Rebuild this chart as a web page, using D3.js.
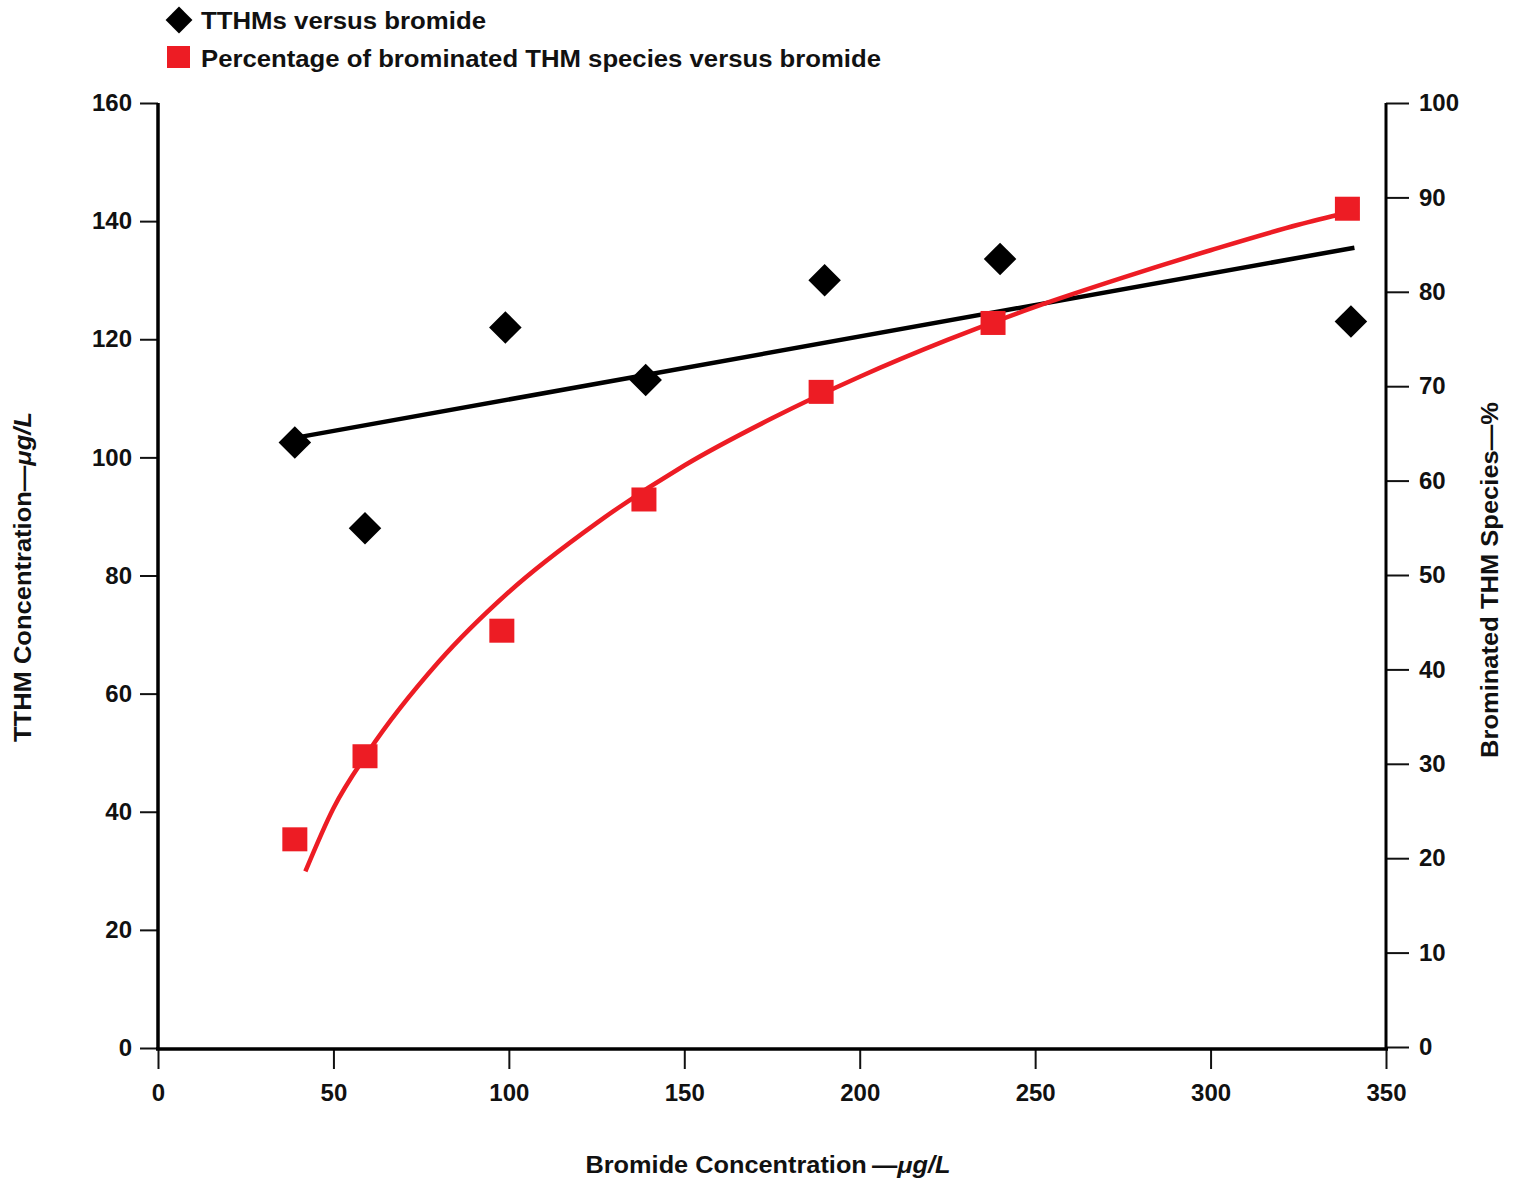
<!DOCTYPE html>
<html>
<head>
<meta charset="utf-8">
<script src="https://cdn.jsdelivr.net/npm/d3@7"></script>
<style>
  body { margin: 0; background: #fff; }
  svg text { font-family: "Liberation Sans", Arial, sans-serif; font-weight: bold; fill: #111; }
</style>
</head>
<body>
<div id="chart"></div>
<script>
// bromide (ug/L) vs TTHM (ug/L)
const tthmX = [39, 59, 99, 139, 190, 240, 340];
const tthmY = [102.5, 88, 122, 113.1, 130, 133.6, 123];
// bromide vs % brominated THM species
const pctX = [39, 59, 98, 138.5, 189, 238, 339];
const pctY = [22, 30.8, 44.1, 58, 69.4, 76.7, 88.8];
// fitted lines
const tthmTrendX = [39, 341];
const tthmTrendY = [103.3, 135.5];
const pctCurveX = [42, 50, 60, 80, 100, 125, 150, 175, 200, 225, 250, 275, 300, 325, 339];
const pctCurveY = [18.6, 25.3, 31.3, 40.8, 48.2, 55.5, 61.6, 66.6, 71.0, 74.9, 78.4, 81.5, 84.4, 87.1, 88.4];

const xTicks = [0, 50, 100, 150, 200, 250, 300, 350];
const leftTicks = [0, 20, 40, 60, 80, 100, 120, 140, 160];
const rightTicks = [0, 10, 20, 30, 40, 50, 60, 70, 80, 90, 100];

const red = '#ed1c24';
const W = 1518, H = 1182;

const svg = d3.select('#chart').append('svg').attr('width', W).attr('height', H);

const x = d3.scaleLinear().domain([0, 350]).range([158, 1386]);
const yL = d3.scaleLinear().domain([0, 160]).range([1048, 103]);
const yR = d3.scaleLinear().domain([0, 100]).range([1047, 103]);

// axes
const gx = svg.append('g').attr('transform', 'translate(0,1049)')
    .call(d3.axisBottom(x).tickValues(xTicks).tickSize(20).tickPadding(15));
const gl = svg.append('g').attr('transform', 'translate(158,0)')
    .call(d3.axisLeft(yL).tickValues(leftTicks).tickSize(18).tickPadding(8));
const gr = svg.append('g').attr('transform', 'translate(1386,0)')
    .call(d3.axisRight(yR).tickValues(rightTicks).tickSize(23).tickPadding(10));

[gx, gl, gr].forEach(g => {
    g.select('.domain').remove();
    g.selectAll('.tick line').attr('stroke', '#111').attr('stroke-width', 2);
    g.selectAll('.tick text').style('font-size', '24px');
});

svg.append('line').attr('x1', 158).attr('x2', 158).attr('y1', 103).attr('y2', 1050)
    .attr('stroke', '#000').attr('stroke-width', 3.5);
svg.append('line').attr('x1', 156).attr('x2', 1388).attr('y1', 1049).attr('y2', 1049)
    .attr('stroke', '#000').attr('stroke-width', 3.5);
svg.append('line').attr('x1', 1386).attr('x2', 1386).attr('y1', 103).attr('y2', 1050)
    .attr('stroke', '#000').attr('stroke-width', 3);

// fitted lines
const trend = tthmTrendX.map((v, i) => ({x: v, y: tthmTrendY[i]}));
svg.append('path')
    .attr('fill', 'none').attr('stroke', '#000').attr('stroke-width', 4.5)
    .attr('d', d3.line().x(d => x(d.x)).y(d => yL(d.y))(trend));

const curve = pctCurveX.map((v, i) => ({x: v, y: pctCurveY[i]}));
svg.append('path')
    .attr('fill', 'none').attr('stroke', red).attr('stroke-width', 4.5)
    .attr('d', d3.line().x(d => x(d.x)).y(d => yR(d.y)).curve(d3.curveMonotoneX)(curve));

// markers
const diamond = d3.symbol().type(d3.symbolSquare).size(23 * 23);
svg.selectAll('path.dia')
    .data(tthmX.map((v, i) => ({x: v, y: tthmY[i]})))
    .enter().append('path')
    .attr('class', 'dia')
    .attr('d', diamond)
    .attr('fill', '#000')
    .attr('transform', d => 'translate(' + x(d.x) + ',' + yL(d.y) + ') rotate(45)');

svg.selectAll('rect.sq')
    .data(pctX.map((v, i) => ({x: v, y: pctY[i]})))
    .enter().append('rect')
    .attr('class', 'sq')
    .attr('x', d => x(d.x) - 12.5).attr('y', d => yR(d.y) - 12)
    .attr('width', 25).attr('height', 24)
    .attr('fill', red);

// legend
svg.append('path').attr('d', d3.symbol().type(d3.symbolSquare).size(19 * 19))
    .attr('fill', '#000').attr('transform', 'translate(179,20) rotate(45)');
svg.append('text').attr('x', 201).attr('y', 29).style('font-size', '23px')
    .attr('textLength', 285).attr('lengthAdjust', 'spacingAndGlyphs')
    .text('TTHMs versus bromide');
svg.append('rect').attr('x', 167).attr('y', 46).attr('width', 23).attr('height', 22).attr('fill', red);
svg.append('text').attr('x', 201).attr('y', 67).style('font-size', '23px')
    .attr('textLength', 680).attr('lengthAdjust', 'spacingAndGlyphs')
    .text('Percentage of brominated THM species versus bromide');

// axis titles
const xt = svg.append('text').attr('x', 768).attr('y', 1173).attr('text-anchor', 'middle')
    .style('font-size', '23px').attr('textLength', 365).attr('lengthAdjust', 'spacingAndGlyphs');
xt.append('tspan').text('Bromide Concentration\u2009\u2014');
xt.append('tspan').style('font-style', 'italic').text('\u03bcg/L');

const lt = svg.append('text').attr('transform', 'translate(31,577) rotate(-90)').attr('text-anchor', 'middle')
    .style('font-size', '23px').attr('textLength', 330).attr('lengthAdjust', 'spacingAndGlyphs');
lt.append('tspan').text('TTHM Concentration\u2014');
lt.append('tspan').style('font-style', 'italic').text('\u03bcg/L');

svg.append('text').attr('transform', 'translate(1498,580) rotate(-90)').attr('text-anchor', 'middle')
    .style('font-size', '23px').attr('textLength', 356).attr('lengthAdjust', 'spacingAndGlyphs')
    .text('Brominated THM Species\u2014%');
</script>
</body>
</html>
